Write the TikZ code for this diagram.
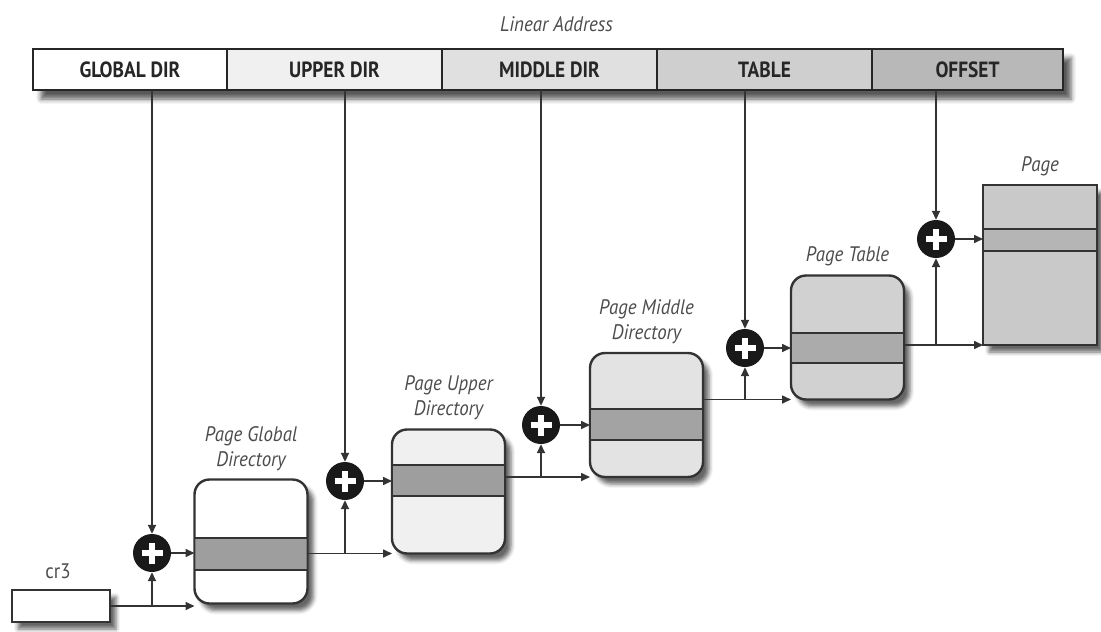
\documentclass[tikz,border=0pt]{standalone}
\usepackage{fontspec}
\newfontfamily\figfont[FakeStretch=0.88]{PT Sans}
\newfontfamily\labelfont[FakeStretch=0.9]{PT Sans}
\usetikzlibrary{positioning, arrows.meta, shadows.blur}

\begin{document}
\begin{tikzpicture}[x=1pt, y=-1pt, node distance=6pt,
    field/.style={draw=black!85, line width=2.4pt, minimum height=41pt, inner sep=0pt, outer sep=0pt,
      font={\figfont\fontsize{22}{26}\selectfont\bfseries}, text=black!85},
    dirbox/.style={draw=black!80, line width=2.4pt, rounded corners=15pt, minimum width=113pt, minimum height=124pt,
      inner sep=0pt, outer sep=0pt, blur shadow={shadow xshift=6pt, shadow yshift=-7pt, shadow blur radius=4pt, shadow opacity=60}},
    boxlabel/.style={font={\labelfont\fontsize{21}{25}\selectfont\itshape}, text=black!70, align=center, inner sep=1pt},
    adder/.style={circle, fill=black!90, minimum size=38pt, inner sep=0pt,
      path picture={\draw[white, line width=6pt]
        ([xshift=-10.5pt]path picture bounding box.center) -- ([xshift=10.5pt]path picture bounding box.center)
        ([yshift=-10.5pt]path picture bounding box.center) -- ([yshift=10.5pt]path picture bounding box.center);}},
    link/.style={draw=black!80, line width=1.6pt, -{Triangle[length=9pt, width=8pt]}}]
  \useasboundingbox (0,0) rectangle (1101,632);

  % the linear address
  \path[fill=white, blur shadow={shadow xshift=8pt, shadow yshift=-9pt, shadow blur radius=5pt, shadow opacity=65}]
    (33,49) rectangle (1063,90);
  \node[field, fill=white, minimum width=194pt] (gdir) at (130,69.5) {GLOBAL DIR};
  \node[field, fill=black!6, minimum width=215pt, right=0pt of gdir] (udir) {UPPER DIR};
  \node[field, fill=black!12, minimum width=215pt, right=0pt of udir] (mdir) {MIDDLE DIR};
  \node[field, fill=black!19, minimum width=215pt, right=0pt of mdir] (tdir) {TABLE};
  \node[field, fill=black!28, minimum width=191pt, right=0pt of tdir] (odir) {OFFSET};
  \node[boxlabel, above=16pt of mdir, xshift=7pt] (lin) {Linear Address};

  % tables
  \node[dirbox, fill=white, sharp corners, minimum width=98pt, minimum height=32pt, line width=2pt] (cr3) at (61,606) {};
  \node[dirbox, fill=white] (pgd) at (251,541.5) {};
  \node[dirbox, fill=black!6] (pud) at (448.5,491.5) {};
  \node[dirbox, fill=black!11] (pmd) at (646.5,415) {};
  \node[dirbox, fill=black!18] (pt) at (847.5,337.5) {};
  \node[dirbox, fill=black!21, sharp corners, minimum width=114pt, minimum height=160pt] (page) at (1040,265) {};

  \foreach \b/\t/\h/\c in {pgd/58/32/38, pud/35/31/38, pmd/56/31/36, pt/57/30/33, page/44/22/29} {
    \fill[black!\c] ([xshift=1.2pt, yshift={-\t*1pt}]\b.north west) rectangle ([xshift=-1.2pt, yshift={-(\t+\h)*1pt}]\b.north east);
    \draw[black!80, line width=2pt]
      ([yshift={-\t*1pt}]\b.north west) -- ([yshift={-\t*1pt}]\b.north east)
      ([yshift={-(\t+\h)*1pt}]\b.north west) -- ([yshift={-(\t+\h)*1pt}]\b.north east);
  }

  \node[boxlabel, above=10pt of cr3, xshift=-3pt, font={\labelfont\fontsize{21}{25}\selectfont}] {cr3};
  \node[boxlabel, above=8pt of pgd] {Page Global\\Directory};
  \node[boxlabel, above=8pt of pud] {Page Upper\\Directory};
  \node[boxlabel, above=8pt of pmd] {Page Middle\\Directory};
  \node[boxlabel, above=8pt of pt] {Page Table};
  \node[boxlabel, above=8pt of page] {Page};

  % adders
  \node[adder] (p1) at (152,553) {};
  \node[adder] (p2) at (345,481) {};
  \node[adder] (p3) at (541,425) {};
  \node[adder] (p4) at (745,348) {};
  \node[adder] (p5) at (936,239) {};

  % index fields into the adders
  \foreach \f/\p in {gdir/p1, udir/p2, mdir/p3, tdir/p4, odir/p5}
    \draw[link] (\p |- \f.south) -- (\p.north);

  % base addresses
  \draw[link] (cr3.east) -- (cr3.east -| pgd.west);
  \draw[link] (cr3.east -| p1) -- (p1.south);
  \draw[link] (pgd.east |- pud.south) -- (pud.south west);
  \draw[link] (pud.south -| p2) -- (p2.south);
  \draw[link] (pud.east |- pmd.south) -- (pmd.south west);
  \draw[link] (pmd.south -| p3) -- (p3.south);
  \draw[link] (pmd.east |- pt.south) -- (pt.south west);
  \draw[link] (pt.south -| p4) -- (p4.south);
  \draw[link] (pt.east |- page.south) -- (page.south west);
  \draw[link] (page.south -| p5) -- (p5.south);

  % sums into the tables
  \foreach \p/\b in {p1/pgd, p2/pud, p3/pmd, p4/pt, p5/page}
    \draw[link] (\p.east) -- (\p -| \b.west);
\end{tikzpicture}
\end{document}
